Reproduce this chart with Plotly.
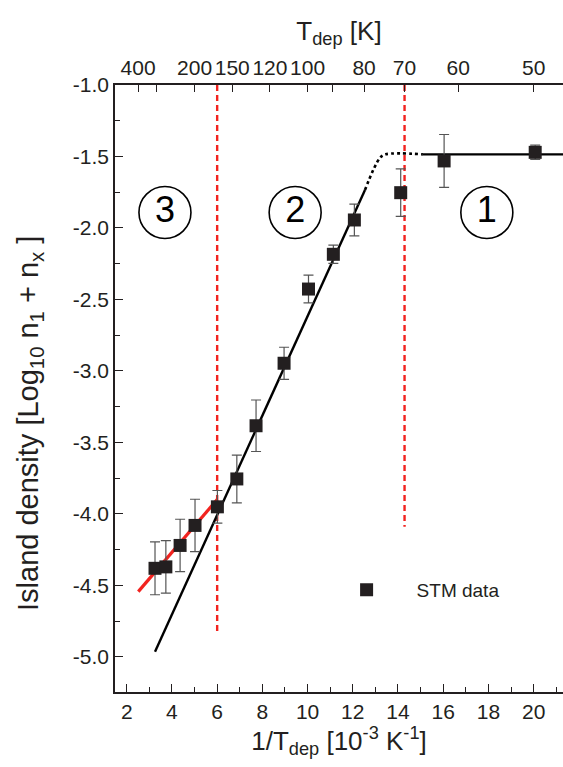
import plotly.graph_objects as go

# STM island densities vs inverse deposition temperature
inv_T = [3.25, 3.73, 4.36, 5.02, 6.01, 6.87, 7.72, 8.96, 10.04, 11.14, 12.07, 14.12, 16.04, 20.07]
log_density = [-4.38, -4.37, -4.22, -4.08, -3.95, -3.755, -3.383, -2.946, -2.427, -2.184, -1.944, -1.753, -1.531, -1.471]
density_err = [0.185, 0.184, 0.183, 0.183, 0.114, 0.167, 0.18, 0.112, 0.097, 0.064, 0.111, 0.166, 0.185, 0.05]

# Fitted regimes
fit2_x = [3.25, 12.54]
fit2_y = [-4.963, -1.734]
cross_x = [12.54, 13.2, 13.45, 15.1]
cross_y = [-1.734, -1.51, -1.485, -1.485]
fit1_x = [15.1, 21.3]
fit1_y = [-1.485, -1.485]
fit3_x = [2.51, 6.01]
fit3_y = [-4.543, -3.897]

# Regime boundaries
bound_x = [6.0, 14.29]
bound_ybot = [-4.84, -4.09]

# Regime labels
regime_x = [3.69, 9.45, 17.93]
regime_y = [-1.892, -1.892, -1.892]
regime_txt = ["3", "2", "1"]

# Axis ticks
y_ticks = [-5.0, -4.5, -4.0, -3.5, -3.0, -2.5, -2.0, -1.5, -1.0]
x_ticks = [2, 4, 6, 8, 10, 12, 14, 16, 18, 20]
T_ticks = [400, 300, 200, 150, 120, 100, 90, 80, 70, 60, 50]
T_labels = ["400", "", "200", "150", "120", "100", "", "80", "70", "60", "50"]

FONT = "Liberation Sans, Arial, sans-serif"
INK = "#231f20"
RED = "#f2231f"

fig = go.Figure()

for bx, by in zip(bound_x, bound_ybot):
    fig.add_trace(go.Scatter(x=[bx, bx], y=[-1.0, by], mode="lines",
                             line=dict(color=RED, width=2.4, dash="6px,4px"),
                             showlegend=False, hoverinfo="skip"))

fig.add_trace(go.Scatter(x=fit2_x, y=fit2_y, mode="lines",
                         line=dict(color="black", width=2.4), showlegend=False))
fig.add_trace(go.Scatter(x=cross_x, y=cross_y, mode="lines", line_shape="spline",
                         line=dict(color="black", width=2.6, dash="dot"), showlegend=False))
fig.add_trace(go.Scatter(x=fit1_x, y=fit1_y, mode="lines",
                         line=dict(color="black", width=2.4), showlegend=False))
fig.add_trace(go.Scatter(x=fit3_x, y=fit3_y, mode="lines",
                         line=dict(color=RED, width=3.2), showlegend=False))

fig.add_trace(go.Scatter(
    x=inv_T, y=log_density, mode="markers", name="STM data",
    marker=dict(symbol="square", size=13, color=INK),
    error_y=dict(type="data", array=density_err, color="#555555", thickness=1.2, width=5),
))

fig.add_trace(go.Scatter(
    x=regime_x, y=regime_y, mode="markers+text", text=regime_txt,
    textposition="middle center",
    textfont=dict(family=FONT, size=36, color="black"),
    marker=dict(symbol="circle-open", size=52, color="black", line=dict(width=1.6)),
    showlegend=False, hoverinfo="skip",
))

# invisible trace that anchors the top temperature axis
fig.add_trace(go.Scatter(x=[inv_T[0]], y=[log_density[0]], xaxis="x2",
                         mode="markers", marker=dict(opacity=0), showlegend=False, hoverinfo="skip"))

# y-axis title, set slightly below the axis centre
fig.add_annotation(
    text="Island density [Log<sub>10</sub> n<sub>1</sub> + n<sub>x</sub> ]",
    xref="paper", yref="paper", x=-0.19, y=0.443, xanchor="center", yanchor="middle",
    textangle=-90, showarrow=False, font=dict(size=29, color=INK),
)

xr = [1.48, 21.3]
fig.update_layout(
    width=563, height=767,
    margin=dict(l=115, r=0, t=85, b=75),
    paper_bgcolor="white", plot_bgcolor="white",
    font=dict(family=FONT, color=INK, size=21),
    xaxis=dict(
        range=xr, tickmode="array", tickvals=x_ticks,
        ticks="inside", ticklen=8, tickwidth=1.2, tickcolor=INK,
        showline=True, linecolor=INK, linewidth=1.5, showgrid=False, zeroline=False,
        minor=dict(tickvals=[3, 5, 7, 9, 11, 13, 15, 17, 19, 21], ticks="inside",
                   ticklen=5, tickwidth=1.2, tickcolor=INK),
        tickfont=dict(size=21),
        title=dict(text="1/T<sub>dep</sub> [10<sup>-3</sup> K<sup>-1</sup>]",
                   font=dict(size=26), standoff=2),
    ),
    xaxis2=dict(
        overlaying="x", side="top", range=xr, matches="x",
        tickmode="array", tickvals=[1000.0 / t for t in T_ticks], ticktext=T_labels,
        ticks="inside", ticklen=7, tickwidth=1.2, tickcolor=INK,
        showline=True, linecolor=INK, linewidth=1.5, showgrid=False, zeroline=False,
        tickfont=dict(size=21),
        title=dict(text="T<sub>dep</sub> [K]", font=dict(size=26), standoff=8),
    ),
    yaxis=dict(
        range=[-5.245, -1.0], tickmode="array",
        tickvals=y_ticks, ticktext=[f"{v:.1f}" for v in y_ticks],
        ticks="inside", ticklen=8, tickwidth=1.2, tickcolor=INK,
        showline=True, linecolor=INK, linewidth=1.5, showgrid=False, zeroline=False,
        minor=dict(tickvals=[-5.0 + 0.25 * k for k in range(1, 17, 2)], ticks="inside",
                   ticklen=5, tickwidth=1.2, tickcolor=INK),
        tickfont=dict(size=21),
    ),
    legend=dict(x=0.45, y=0.168, xanchor="left", yanchor="middle",
                bgcolor="rgba(0,0,0,0)", font=dict(size=19), itemwidth=90),
)

fig.write_html("out.html")
